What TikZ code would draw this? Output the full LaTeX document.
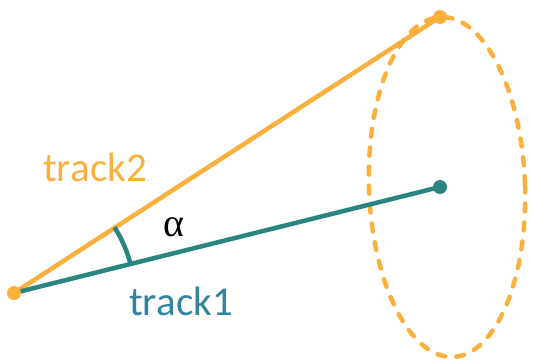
\documentclass[tikz,border=0pt]{standalone}
\usepackage{fontspec}
\setsansfont{Carlito}
\newfontfamily\grkfont{Liberation Serif}
\definecolor{orng}{HTML}{FAB03C}
\definecolor{teal2}{HTML}{2A8480}
\definecolor{tealtxt}{HTML}{31849B}
\begin{document}
\begin{tikzpicture}[x=1pt,y=1pt,
  dot/.style={circle,fill=#1,inner sep=0pt,minimum size=14pt},
  track/.style={line width=4.5pt,draw=#1},
  lbl/.style={font=\sffamily\fontsize{41}{48}\selectfont,text=#1,inner sep=0pt,anchor=base west}]
\useasboundingbox (0,0) rectangle (533,360);
\coordinate (o) at (14,67);
\coordinate (a) at (440,343);
\coordinate (b) at (440,173);
\coordinate (c) at (447,173);
% dashed cone base
\draw[orng,line width=4.5pt,dash pattern=on 8pt off 11pt,line cap=round,rotate around={2:(c)}]
  (c) ellipse[x radius=78, y radius=170];
% tracks
\draw[track=orng] (o) -- (a);
\draw[track=teal2] (o) -- (b);
% angle arc
\draw[teal2,line width=4.5pt] (o) ++(13.6:120) arc[start angle=13.6,end angle=33.2,radius=120];
% dots
\node[dot=orng] (O) at (o) {};
\node[dot=orng] (A) at (a) {};
\node[dot=teal2] (B) at (b) {};
% labels
\node[lbl=orng] (t2) at (43,179) {track2};
\node[lbl=tealtxt] (t1) at (129,45) {track1};
\node[inner sep=0pt,anchor=base west,font=\grkfont\fontsize{40}{44}\selectfont] (al) at (163,124) {α};
\end{tikzpicture}
\end{document}
